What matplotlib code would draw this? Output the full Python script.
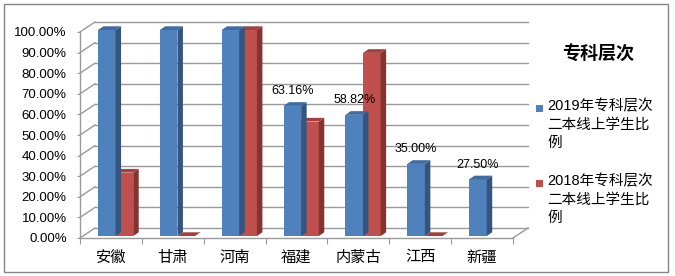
import matplotlib
matplotlib.use('Agg')
import matplotlib.pyplot as plt
import matplotlib.patches as mpatches
import numpy as np

plt.rcParams['font.family'] = ['Liberation Sans', 'Noto Sans CJK SC']

provinces = ['安徽', '甘肃', '河南', '福建', '内蒙古', '江西', '新疆']
rate_2019 = [1.0, 1.0, 1.0, 0.6316, 0.5882, 0.35, 0.275]
rate_2018 = [0.3077, 0.0, 1.0, 0.5556, 0.8889, 0.0, np.nan]
series_names = ['2019年专科层次\n二本线上学生比\n例', '2018年专科层次\n二本线上学生比\n例']
legend_title = '专科层次'
yticks = np.arange(0, 1.001, 0.1)

W, H = 675, 276
fig = plt.figure(figsize=(W / 100, H / 100), dpi=100)

# plot area in pixels (front plane)
left, right, bottom, top = 80, 513, 238, 32
ax = fig.add_axes([left / W, 1 - bottom / H, (right - left) / W, (bottom - top) / H])
ax.set_xlim(0, len(provinces))
ax.set_ylim(0, 1)

px_x = len(provinces) / (right - left)
px_y = 1.0 / (bottom - top)

# back wall offset and bar depth (in data units)
bx, by = 15 * px_x, 10 * px_y
dx, dy = 5.5 * px_x, 3.7 * px_y
lift = 2 * px_y

grid_c = '#9a9a9a'
for v in yticks:
    ax.plot([bx, len(provinces) + bx], [v + by, v + by], color=grid_c, lw=1, zorder=1, clip_on=False)
    ax.plot([0, bx], [v, v + by], color=grid_c, lw=1, zorder=1, clip_on=False)
ax.plot([len(provinces), len(provinces) + bx], [0, by], color=grid_c, lw=1, zorder=1, clip_on=False)

colors = [('#4F81BD', '#34557F', '#3F6BA3'), ('#C0504D', '#843331', '#A3403D')]
offsets = [0.29, 0.575]
width = 0.285


def draw_bar(x0, h, cols):
    front, side, topc = cols
    y0 = lift
    y1 = lift + h
    x1 = x0 + width
    if h > 0:
        ax.add_patch(mpatches.Rectangle((x0, y0), width, h, facecolor=front,
                                        edgecolor='none', zorder=3, clip_on=False))
        ax.add_patch(mpatches.Polygon([(x1, y0), (x1, y1), (x1 + dx, y1 + dy), (x1 + dx, y0 + dy)],
                                      closed=True, facecolor=side, edgecolor='none', zorder=3, clip_on=False))
    ax.add_patch(mpatches.Polygon([(x0, y1), (x1, y1), (x1 + dx, y1 + dy), (x0 + dx, y1 + dy)],
                                  closed=True, facecolor=topc, edgecolor='none', zorder=3, clip_on=False))


for i in range(len(provinces)):
    if not np.isnan(rate_2018[i]):
        draw_bar(i + offsets[1], rate_2018[i], colors[1])
    draw_bar(i + offsets[0], rate_2019[i], colors[0])
    ax.annotate('{:.2f}%'.format(rate_2019[i] * 100),
                xy=(i + offsets[0] + width / 2, rate_2019[i] + lift),
                xytext=(0, 14.5), textcoords='offset pixels',
                ha='center', va='center', fontsize=9, zorder=5)

for s in ['top', 'right']:
    ax.spines[s].set_visible(False)
for s in ['left', 'bottom']:
    ax.spines[s].set_color(grid_c)
    ax.spines[s].set_linewidth(1)

ax.set_yticks(yticks)
ax.set_yticklabels(['{:.2f}%'.format(v * 100) for v in yticks], fontsize=9.5)
ax.tick_params(axis='y', length=2.5, color=grid_c, pad=7)

ax.set_xticks(np.arange(len(provinces) + 1))
ax.set_xticklabels([])
ax.tick_params(axis='x', which='major', length=4, color=grid_c)
ax.set_xticks(np.arange(len(provinces)) + 0.5, minor=True)
ax.set_xticklabels(provinces, minor=True, fontsize=11)
ax.tick_params(axis='x', which='minor', length=0, pad=9)

# legend drawn by hand to match layout
fig.text(598 / W, 1 - 55 / H, legend_title, fontsize=13, fontweight='bold', ha='center', va='center')
entry_y = [108, 183]
for name, cols, yy in zip(series_names, colors, entry_y):
    fig.patches.append(mpatches.Rectangle(((536) / W, 1 - (yy + 3.5) / H), 7 / W, 7 / H,
                                          facecolor=cols[0], edgecolor='none',
                                          transform=fig.transFigure, figure=fig))
    fig.text(547 / W, 1 - (yy - 9) / H, name, fontsize=10.5, ha='left', va='top', linespacing=1.38)

# chart border
fig.patches.append(mpatches.Rectangle((4 / W, 4 / H), 664 / W, 268 / H, fill=False,
                                      edgecolor='#868686', lw=1,
                                      transform=fig.transFigure, figure=fig))

fig.savefig('out.png', dpi=100)
